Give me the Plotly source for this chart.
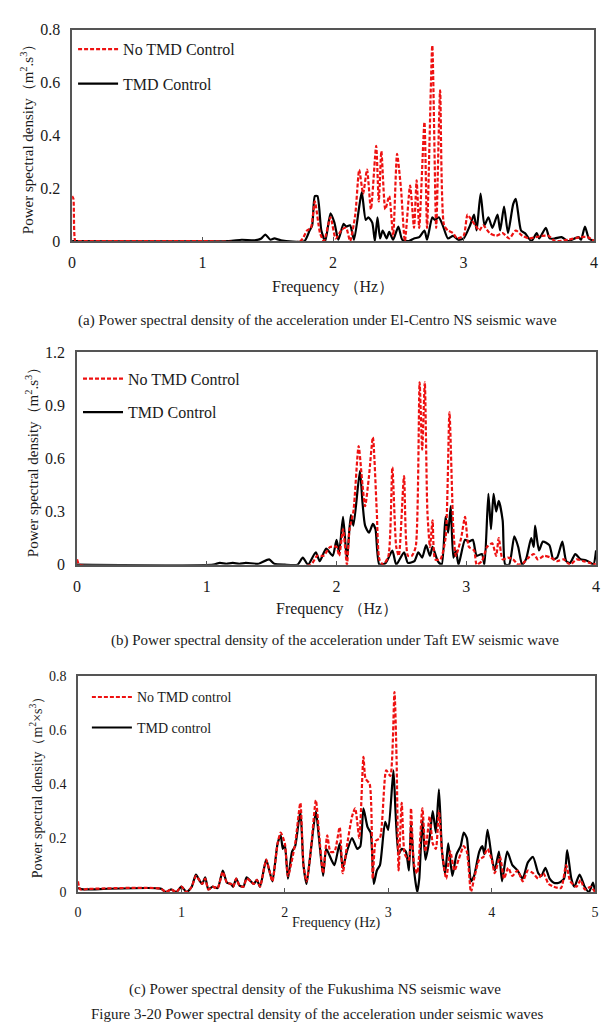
import plotly.graph_objects as go

# ---------------- Data ----------------
# Panel (a) El-Centro NS
a_red_f = [0.0, 0.01, 0.025, 0.05, 1.0, 1.75, 1.80, 1.83, 1.86, 1.90, 1.93, 1.98, 2.02, 2.07, 2.10, 2.13, 2.17, 2.20, 2.23, 2.26, 2.29,
           2.33, 2.35, 2.37, 2.40, 2.43, 2.46, 2.49, 2.52, 2.55, 2.59, 2.62, 2.64, 2.66, 2.70, 2.72, 2.76, 2.79, 2.82, 2.85,
           2.88, 2.92, 2.95, 3.00, 3.03, 3.06, 3.09, 3.12, 3.15, 3.20, 3.25, 3.30, 3.35, 3.40, 3.45, 3.50, 3.60, 3.65, 3.70,
           3.80, 3.90, 3.95, 4.00]
a_red_v = [0.17, 0.16, 0.0, 0.0, 0.0, 0.0, 0.04, 0.05, 0.15, 0.03, 0.0, 0.09, 0.01, 0.045, 0.05, 0.0, 0.10, 0.27, 0.18, 0.27, 0.12,
           0.36, 0.15, 0.34, 0.12, 0.17, 0.02, 0.33, 0.20, 0.0, 0.21, 0.05, 0.23, 0.05, 0.45, 0.05, 0.74, 0.05, 0.57, 0.06,
           0.04, 0.03, 0.01, 0.02, 0.10, 0.08, 0.06, 0.04, 0.06, 0.03, 0.02, 0.03, 0.01, 0.04, 0.02, 0.01, 0.02, 0.02, 0.0,
           0.005, 0.015, 0.015, 0.0]
a_blk_f = [0.0, 1.20, 1.30, 1.40, 1.45, 1.48, 1.52, 1.55, 1.60, 1.78, 1.82, 1.84, 1.86, 1.88, 1.91, 1.94, 1.98, 2.01, 2.04, 2.08,
           2.10, 2.13, 2.16, 2.20, 2.22, 2.25, 2.27, 2.30, 2.32, 2.34, 2.36, 2.38, 2.41, 2.43, 2.46, 2.50, 2.53, 2.58, 2.62,
           2.66, 2.70, 2.72, 2.76, 2.78, 2.81, 2.84, 2.88, 2.92, 2.96, 3.00, 3.05, 3.08, 3.10, 3.13, 3.16, 3.19, 3.22, 3.26,
           3.28, 3.31, 3.34, 3.38, 3.40, 3.44, 3.47, 3.52, 3.56, 3.58, 3.63, 3.66, 3.70, 3.75, 3.80, 3.88, 3.90, 3.93, 3.96, 4.00]
a_blk_v = [0.0, 0.0, 0.005, 0.003, 0.01, 0.025, 0.005, 0.01, 0.003, 0.0, 0.04, 0.06, 0.17, 0.17, 0.04, 0.0, 0.105, 0.07, 0.005, 0.065,
           0.055, 0.06, 0.005, 0.13, 0.185, 0.08, 0.09, 0.07, 0.0, 0.09, 0.01, 0.04, 0.01, 0.035, 0.005, 0.055, 0.005, 0.0, 0.01,
           0.015, 0.04, 0.005, 0.09, 0.08, 0.09, 0.06, 0.01, 0.02, 0.005, 0.01, 0.06, 0.10, 0.04, 0.18, 0.06, 0.09, 0.05, 0.10,
           0.04, 0.13, 0.03, 0.14, 0.16, 0.04, 0.03, 0.0, 0.03, 0.01, 0.05, 0.01, 0.01, 0.015, 0.0, 0.015, 0.005, 0.055, 0.01, 0.0]

# Panel (b) Taft EW
b_red_f = [0.0, 0.02, 1.80, 1.85, 1.90, 1.95, 2.00, 2.02, 2.05, 2.08, 2.10, 2.13, 2.17, 2.20, 2.22, 2.25, 2.28, 2.31, 2.33, 2.36,
           2.40, 2.43, 2.46, 2.48, 2.52, 2.55, 2.58, 2.61, 2.64, 2.66, 2.68, 2.70, 2.72, 2.74, 2.76, 2.80, 2.84, 2.87, 2.90,
           2.92, 2.96, 2.99, 3.02, 3.06, 3.08, 3.12, 3.16, 3.20, 3.23, 3.25, 3.28, 3.32, 3.36, 3.40, 3.44, 3.48, 3.52, 3.55,
           3.60, 3.65, 3.70, 3.75, 3.80, 3.85, 3.90, 3.95, 4.00]
b_red_v = [0.03, 0.0, 0.0, 0.05, 0.05, 0.10, 0.10, 0.05, 0.20, 0.0, 0.20, 0.30, 0.67, 0.45, 0.33, 0.50, 0.72, 0.30, 0.03, 0.0,
           0.05, 0.55, 0.10, 0.05, 0.50, 0.05, 0.05, 0.10, 1.03, 0.65, 1.03, 0.30, 0.10, 0.25, 0.03, 0.03, 0.15, 0.86, 0.20,
           0.05, 0.15, 0.27, 0.10, 0.08, 0.0, 0.02, 0.10, 0.12, 0.05, 0.15, 0.03, 0.04, 0.03, 0.0, 0.01, 0.04, 0.06, 0.03,
           0.05, 0.04, 0.02, 0.03, 0.0, 0.03, 0.02, 0.01, 0.0]
b_blk_f = [0.0, 1.05, 1.10, 1.15, 1.20, 1.25, 1.30, 1.40, 1.48, 1.52, 1.60, 1.70, 1.74, 1.78, 1.84, 1.87, 1.92, 1.97, 2.00, 2.02,
           2.05, 2.08, 2.11, 2.13, 2.18, 2.20, 2.22, 2.25, 2.28, 2.30, 2.33, 2.38, 2.43, 2.46, 2.52, 2.55, 2.60, 2.63, 2.66,
           2.69, 2.72, 2.74, 2.78, 2.81, 2.84, 2.86, 2.88, 2.90, 2.92, 2.94, 2.99, 3.02, 3.05, 3.08, 3.12, 3.14, 3.17, 3.19,
           3.21, 3.23, 3.25, 3.28, 3.30, 3.33, 3.37, 3.40, 3.43, 3.46, 3.50, 3.52, 3.53, 3.56, 3.59, 3.64, 3.67, 3.70, 3.74,
           3.77, 3.80, 3.84, 3.88, 3.92, 3.96, 3.98, 4.00]
b_blk_v = [0.0, 0.0, 0.01, 0.005, 0.01, 0.005, 0.01, 0.005, 0.03, 0.005, 0.0, 0.0, 0.04, 0.0, 0.07, 0.02, 0.09, 0.05, 0.14, 0.07,
           0.27, 0.03, 0.28, 0.22, 0.53, 0.35, 0.22, 0.18, 0.23, 0.20, 0.0, 0.01, 0.08, 0.0, 0.07, 0.01, 0.02, 0.07, 0.04,
           0.11, 0.05, 0.10, 0.02, 0.0, 0.27, 0.18, 0.33, 0.04, 0.08, 0.0, 0.14, 0.13, 0.14, 0.05, 0.06, 0.0, 0.40, 0.20,
           0.40, 0.30, 0.36, 0.25, 0.0, 0.0, 0.16, 0.10, 0.0, 0.03, 0.15, 0.10, 0.22, 0.08, 0.13, 0.11, 0.03, 0.04, 0.13,
           0.02, 0.01, 0.06, 0.03, 0.025, 0.01, 0.0, 0.08]

# Panel (c) Fukushima NS
c_red_f = [0.0, 0.02, 0.10, 0.80, 0.85, 0.90, 0.95, 1.00, 1.05, 1.10, 1.14, 1.18, 1.20, 1.23, 1.26, 1.30, 1.35, 1.40, 1.44, 1.48,
           1.50, 1.53, 1.56, 1.60, 1.63, 1.67, 1.70, 1.73, 1.76, 1.80, 1.82, 1.85, 1.88, 1.93, 1.96, 2.00, 2.03, 2.10, 2.15,
           2.18, 2.21, 2.25, 2.30, 2.33, 2.37, 2.41, 2.44, 2.48, 2.53, 2.56, 2.60, 2.65, 2.68, 2.72, 2.76, 2.78, 2.82, 2.85,
           2.88, 2.92, 2.98, 3.02, 3.06, 3.08, 3.10, 3.13, 3.16, 3.20, 3.22, 3.25, 3.28, 3.33, 3.36, 3.40, 3.43, 3.46, 3.49,
           3.52, 3.56, 3.60, 3.64, 3.68, 3.73, 3.76, 3.80, 3.83, 3.88, 3.92, 3.96, 4.00, 4.03, 4.08, 4.12, 4.16, 4.20, 4.25,
           4.30, 4.35, 4.40, 4.45, 4.50, 4.55, 4.60, 4.67, 4.72, 4.76, 4.82, 4.86, 4.90, 4.96, 5.00]
c_red_v = [0.04, 0.01, 0.012, 0.013, 0.0, 0.01, 0.0, 0.02, 0.0, 0.02, 0.06, 0.04, 0.03, 0.05, 0.01, 0.02, 0.015, 0.075, 0.035, 0.03,
           0.02, 0.05, 0.025, 0.02, 0.05, 0.04, 0.03, 0.045, 0.02, 0.09, 0.12, 0.08, 0.04, 0.18, 0.22, 0.18, 0.06, 0.18, 0.33,
           0.10, 0.04, 0.15, 0.34, 0.22, 0.07, 0.21, 0.15, 0.15, 0.24, 0.07, 0.17, 0.28, 0.31, 0.20, 0.50, 0.42, 0.40, 0.05,
           0.19, 0.20, 0.45, 0.43, 0.74, 0.50, 0.08, 0.33, 0.14, 0.12, 0.31, 0.10, 0.07, 0.31, 0.15, 0.28, 0.18, 0.16, 0.30,
           0.15, 0.05, 0.15, 0.08, 0.12, 0.17, 0.15, 0.0, 0.05, 0.12, 0.13, 0.16, 0.12, 0.07, 0.13, 0.05, 0.09, 0.06, 0.08,
           0.04, 0.08, 0.07, 0.05, 0.07, 0.03, 0.02, 0.015, 0.10, 0.04, 0.02, 0.045, 0.01, 0.02, 0.0]
c_blk_f = [0.0, 0.05, 0.10, 0.80, 0.85, 0.90, 0.95, 1.00, 1.05, 1.10, 1.14, 1.18, 1.20, 1.23, 1.26, 1.30, 1.35, 1.40, 1.44, 1.48,
           1.50, 1.53, 1.56, 1.60, 1.63, 1.67, 1.70, 1.73, 1.76, 1.80, 1.82, 1.85, 1.88, 1.93, 1.96, 1.98, 2.00, 2.03, 2.07,
           2.10, 2.15, 2.18, 2.21, 2.25, 2.30, 2.33, 2.37, 2.40, 2.45, 2.48, 2.53, 2.56, 2.60, 2.65, 2.70, 2.73, 2.76, 2.80,
           2.83, 2.86, 2.89, 2.92, 2.97, 3.00, 3.05, 3.07, 3.10, 3.13, 3.17, 3.20, 3.22, 3.25, 3.28, 3.30, 3.33, 3.36, 3.40,
           3.43, 3.46, 3.49, 3.52, 3.55, 3.58, 3.62, 3.66, 3.70, 3.73, 3.76, 3.80, 3.83, 3.88, 3.91, 3.93, 3.96, 4.00, 4.03,
           4.07, 4.10, 4.15, 4.20, 4.25, 4.30, 4.35, 4.40, 4.45, 4.48, 4.52, 4.56, 4.60, 4.65, 4.70, 4.73, 4.77, 4.80, 4.85,
           4.90, 4.94, 4.98, 5.00]
c_blk_v = [0.015, 0.01, 0.01, 0.013, 0.0, 0.01, 0.0, 0.02, 0.0, 0.02, 0.065, 0.04, 0.03, 0.055, 0.01, 0.02, 0.015, 0.08, 0.035, 0.03,
           0.02, 0.05, 0.025, 0.02, 0.055, 0.04, 0.03, 0.045, 0.02, 0.09, 0.12, 0.08, 0.04, 0.18, 0.21, 0.16, 0.175, 0.05, 0.15,
           0.17, 0.30, 0.10, 0.03, 0.15, 0.30, 0.20, 0.06, 0.16, 0.12, 0.10, 0.18, 0.09, 0.15, 0.20, 0.16, 0.17, 0.31, 0.24,
           0.22, 0.03, 0.08, 0.10, 0.26, 0.23, 0.45, 0.30, 0.14, 0.16, 0.15, 0.08, 0.25, 0.08, 0.0, 0.05, 0.27, 0.12, 0.20,
           0.30, 0.22, 0.38, 0.15, 0.07, 0.18, 0.06, 0.14, 0.17, 0.22, 0.20, 0.04, 0.06, 0.15, 0.17, 0.14, 0.23, 0.13, 0.08,
           0.15, 0.04, 0.15, 0.10, 0.08, 0.05, 0.11, 0.13, 0.07, 0.06, 0.09, 0.05, 0.035, 0.035, 0.05, 0.155, 0.05, 0.02, 0.065,
           0.02, 0.0, 0.035, 0.0]

legend_names_ab = ["No TMD Control", "TMD Control"]
legend_names_c = ["No TMD control", "TMD control"]
captions = ["(a) Power spectral density of the acceleration under El-Centro NS seismic wave",
            "(b) Power spectral density of the acceleration under Taft EW seismic wave",
            "(c) Power spectral density of the Fukushima NS seismic wave",
            "Figure 3-20 Power spectral density of the acceleration under seismic waves"]

# ---------------- Figure ----------------
W, H = 606, 1028
FONT = '"Liberation Serif", "DejaVu Serif", serif'
RED = "#ee1111"
TXT = "#1a1a1a"

def px_x(x):
    return x / W

def px_y(y):
    return 1 - y / H

fig = go.Figure()

panels = [
    dict(xa="x", ya="y", red=(a_red_f, a_red_v), blk=(a_blk_f, a_blk_v), names=legend_names_ab, lg=("legend2", "legend3")),
    dict(xa="x2", ya="y2", red=(b_red_f, b_red_v), blk=(b_blk_f, b_blk_v), names=legend_names_ab, lg=("legend4", "legend5")),
    dict(xa="x3", ya="y3", red=(c_red_f, c_red_v), blk=(c_blk_f, c_blk_v), names=legend_names_c, lg=("legend6", "legend7")),
]
for p in panels:
    fig.add_trace(go.Scatter(x=p["blk"][0], y=p["blk"][1], mode="lines", name=p["names"][1],
                             line=dict(color="black", width=2.2, shape="spline", smoothing=0.6),
                             xaxis=p["xa"], yaxis=p["ya"], legend=p["lg"][1]))
    fig.add_trace(go.Scatter(x=p["red"][0], y=p["red"][1], mode="lines", name=p["names"][0],
                             line=dict(color=RED, width=2.2, dash="4px,2px", shape="spline", smoothing=0.6),
                             xaxis=p["xa"], yaxis=p["ya"], legend=p["lg"][0]))

axis_common = dict(showline=True, mirror=True, linecolor="#555555", linewidth=1.5, showgrid=False, zeroline=False,
                   ticks="", tickfont=dict(family=FONT, size=16, color=TXT))

# pixel boxes: (left, right, top, bottom)
boxes = [(69, 598, 22, 237), (74, 600, 350, 566), (75, 599, 679, 899)]

layout = dict(width=W, height=H, margin=dict(l=0, r=0, t=0, b=0), plot_bgcolor="white", paper_bgcolor="white",
              font=dict(family=FONT, color=TXT), showlegend=True)

xranges = [[0, 4], [0, 4], [0, 5]]
yranges = [[0, 0.8], [0, 1.2], [0, 0.8]]
ydticks = [0.2, 0.3, 0.2]
ytitles = ["Power spectral density（m<sup>2</sup>.s<sup>3</sup>）",
           "Power spectral density（m<sup>2</sup>.s<sup>3</sup>）",
           "Power spectral density（m<sup>2</sup>×s<sup>3</sup>）"]
for i, (l, r, t, b) in enumerate(boxes):
    sx = "" if i == 0 else str(i + 1)
    xa = dict(axis_common, domain=[px_x(l), px_x(r)], range=xranges[i], dtick=1, anchor="y" + sx,
              ticks="inside", ticklen=4, tickcolor="#555", ticklabelstandoff=6)
    ya = dict(axis_common, domain=[px_y(b), px_y(t)], range=yranges[i], dtick=ydticks[i], anchor="x" + sx,
              ticklabelstandoff=7,
              title=dict(text=ytitles[i], font=dict(family=FONT, size=15 if i < 2 else 14, color=TXT), standoff=3))
    if i == 2:
        xa["tickfont"] = dict(family=FONT, size=14, color=TXT)
        ya["tickfont"] = dict(family=FONT, size=14, color=TXT)
    layout["xaxis" + sx] = xa
    layout["yaxis" + sx] = ya

fig.update_layout(**layout)

# legends (one per series, placed inside each panel)
leg_pos = [(78, 42, 16), (78, 77, 16), (83, 377, 16), (83, 411, 16), (92, 701, 14), (92, 732, 14)]
for k, (lx, ly, fs) in enumerate(leg_pos):
    key = "legend%d" % (k + 2)
    fig.update_layout(**{key: dict(x=px_x(lx - 8), y=px_y(ly), xanchor="left", yanchor="middle",
                                   bgcolor="rgba(0,0,0,0)", borderwidth=0, itemwidth=40,
                                   font=dict(family=FONT, size=fs, color=TXT))})

# x titles and captions
ann = [
    ("Frequency （Hz）", 333, 284, 16),
    (captions[0], 318, 318, 15),
    ("Frequency （Hz）", 337, 611, 16),
    (captions[1], 335, 643, 15),
    ("Frequency (Hz)", 337, 930, 14),
    (captions[2], 315, 998, 15),
    (captions[3], 318, 1023, 15),
]
for text, x, y, fs in ann:
    fig.add_annotation(text=text, x=px_x(x), y=px_y(y), xref="paper", yref="paper", showarrow=False,
                       xanchor="center", yanchor="middle", font=dict(family=FONT, size=fs, color=TXT))

fig.write_html("out.html")
